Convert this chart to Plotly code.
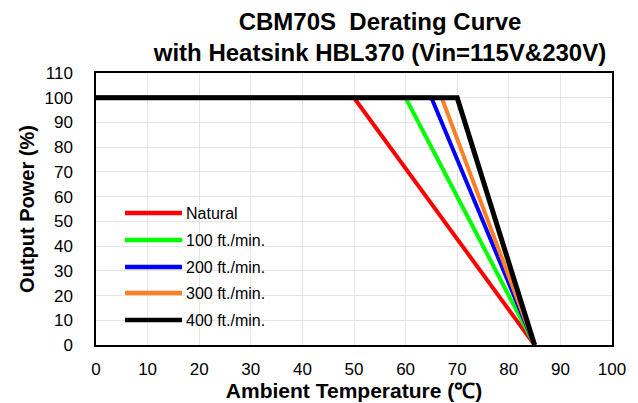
import plotly.graph_objects as go

series_names = ["Natural", "100 ft./min.", "200 ft./min.", "300 ft./min.", "400 ft./min."]
series_colors = ["#FF0000", "#00FF00", "#0000FF", "#FF7F27", "#000000"]
knee_temps = [50, 60, 65, 67, 70]
start_temp = [0, 0, 0, 0, 0]
end_temp = [85, 85, 85, 85, 85]
full_power = [100, 100, 100, 100, 100]
zero_power = [0, 0, 0, 0, 0]
x_ticks = list(range(0, 101, 10))
y_ticks = list(range(0, 111, 10))

OFF = 8  # page body margin
W, H = 638 - OFF, 403 - OFF
L, T = 96 - OFF, 73 - OFF
pw, ph = 516, 272
R, B = W - L - pw, H - T - ph

fig = go.Figure()
for i, name in enumerate(series_names):
    fig.add_trace(go.Scatter(
        x=[start_temp[i], knee_temps[i], end_temp[i]],
        y=[full_power[i], full_power[i], zero_power[i]],
        mode="lines", name=name,
        line=dict(color=series_colors[i], width=5 if i == 4 else 4),
        showlegend=False,
    ))

# manual legend (reference pixel rows)
leg_y = [213, 240, 267, 293, 320]
for i, name in enumerate(series_names):
    yp = (403 - 58 - leg_y[i]) / ph
    x0 = (125 - 96) / pw
    x1 = (182 - 96) / pw
    fig.add_shape(type="line", xref="paper", yref="paper", x0=x0, x1=x1, y0=yp, y1=yp,
                  line=dict(color=series_colors[i], width=4.5))
    fig.add_annotation(xref="paper", yref="paper", x=(184 - 96) / pw, y=yp, text=name,
                       showarrow=False, xanchor="left", yanchor="middle",
                       font=dict(family="Liberation Sans, Arial", size=16, color="#000"))

fig.update_layout(
    width=W, height=H,
    margin=dict(l=L, r=R, t=T, b=B),
    paper_bgcolor="white", plot_bgcolor="white",
    title=dict(text="<b>CBM70S  Derating Curve</b><br><b>with Heatsink HBL370 (Vin=115V&230V)</b>",
               x=(380 - OFF) / W, xanchor="center", y=1 - (30 - OFF) / H, yanchor="middle",
               font=dict(family="Liberation Sans, Arial", size=24, color="#000")),
    font=dict(family="Liberation Sans, Arial", color="#000"),
)
fig.update_xaxes(range=[0, 100], tickvals=x_ticks, showgrid=True, gridcolor="#E6E6E6",
                 showline=True, linecolor="#000", linewidth=1.5, mirror=True, automargin=False,
                 ticks="", tickfont=dict(size=17), zeroline=False, ticklabelstandoff=8,
                 title=dict(text="<b>Ambient Temperature (℃)</b>", font=dict(size=21), standoff=0))
fig.update_yaxes(range=[0, 110], tickvals=y_ticks, showgrid=True, gridcolor="#E6E6E6",
                 showline=True, linecolor="#000", linewidth=1.5, mirror=True, automargin=False,
                 ticks="", tickfont=dict(size=17), zeroline=False, ticklabelstandoff=18,
                 title=dict(text="<b>Output Power (%)</b>", font=dict(size=20), standoff=4))

fig.write_html("out.html")
